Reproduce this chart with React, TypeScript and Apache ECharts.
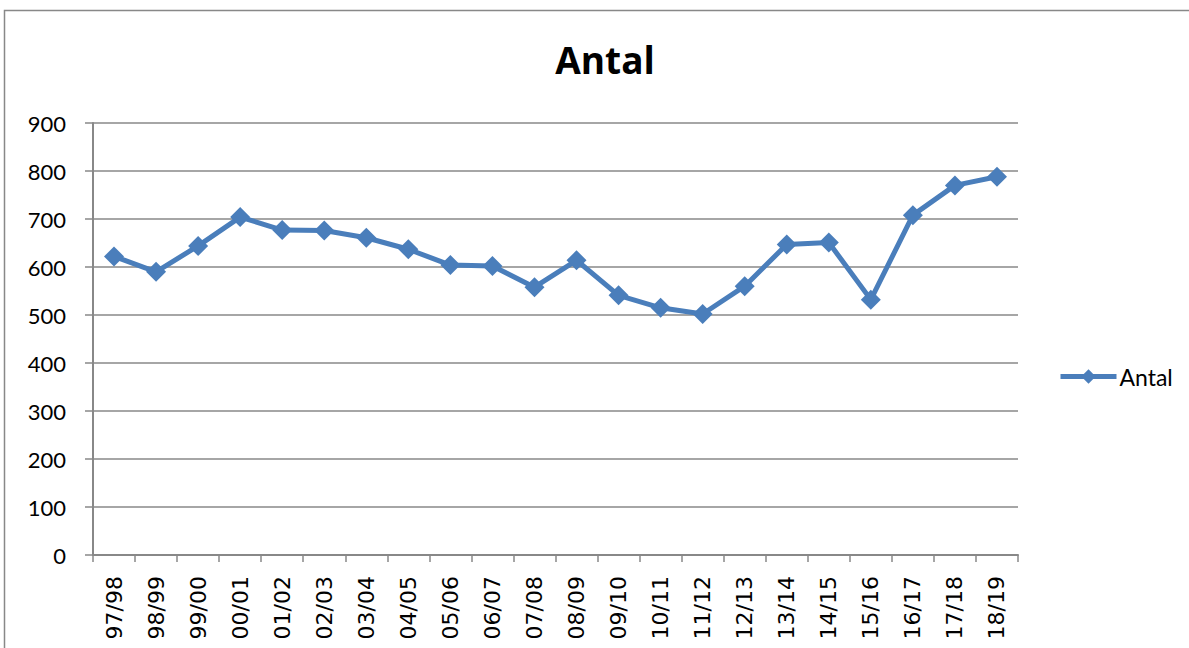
import React, { useEffect, useRef } from "react";
import * as echarts from "echarts";

const categories = ["97/98","98/99","99/00","00/01","01/02","02/03","03/04","04/05","05/06","06/07","07/08","08/09","09/10","10/11","11/12","12/13","13/14","14/15","15/16","16/17","17/18","18/19"];
const antal = [622,590,644,704,677,676,661,637,604,602,558,614,541,515,502,560,647,651,532,708,770,788];
const seriesName = "Antal";
const titleText = "Antal";

const FONT = "Lato, 'Open Sans', sans-serif";
const BLUE = "#4a7ebb";
const GRAY = "#888888";

export default function App() {
  const ref = useRef<HTMLDivElement>(null);
  useEffect(() => {
    if (!ref.current) return;
    const chart = echarts.init(ref.current, null, { renderer: "svg" });
    chart.setOption({
      animation: false,
      backgroundColor: "#ffffff",
      textStyle: { fontFamily: FONT },
      title: {
        text: titleText,
        left: 605,
        textAlign: "center",
        top: 41,
        padding: 0,
        textStyle: { fontSize: 37, fontWeight: "bold", color: "#000", fontFamily: "'Open Sans', sans-serif" },
      },
      graphic: [
        {
          type: "rect",
          shape: { x: 4.5, y: 10.5, width: 1300, height: 800 },
          style: { fill: "none", stroke: GRAY, lineWidth: 1.5 },
          silent: true,
        },
      ],
      legend: {
        left: 1058,
        top: 365,
        padding: 0,
        itemWidth: 56,
        itemHeight: 18,
        itemGap: 4,
        lineStyle: { width: 5 },
        textStyle: { fontSize: 23, color: "#000", fontFamily: FONT, padding: [0, 0, 0, -2] },
        data: [seriesName],
      },
      grid: { left: 93, top: 123, width: 925, height: 432, containLabel: false },
      xAxis: {
        type: "category",
        data: categories,
        boundaryGap: true,
        axisLine: { lineStyle: { color: GRAY, width: 2 } },
        axisTick: { show: true, length: 7, lineStyle: { color: GRAY, width: 1.5 }, alignWithLabel: false },
        axisLabel: { rotate: 90, fontSize: 22, color: "#000", margin: 21, fontFamily: "DejaVu Sans", interval: 0 },
      },
      yAxis: {
        type: "value",
        min: 0,
        max: 900,
        interval: 100,
        axisLine: { show: true, lineStyle: { color: GRAY, width: 2 } },
        axisTick: { show: true, length: 8, lineStyle: { color: GRAY, width: 1.5 } },
        splitLine: { lineStyle: { color: GRAY, width: 1.5 } },
        axisLabel: { fontSize: 22, color: "#000", margin: 27, fontFamily: FONT },
      },
      series: [
        {
          name: seriesName,
          type: "line",
          data: antal,
          symbol: "diamond",
          symbolSize: 20,
          lineStyle: { color: BLUE, width: 5 },
          itemStyle: { color: BLUE },
        },
      ],
    });
    return () => chart.dispose();
  }, []);
  return (
    <div
      ref={ref}
      style={{ position: "absolute", left: 0, top: 0, width: 1189, height: 648 }}
    />
  );
}
